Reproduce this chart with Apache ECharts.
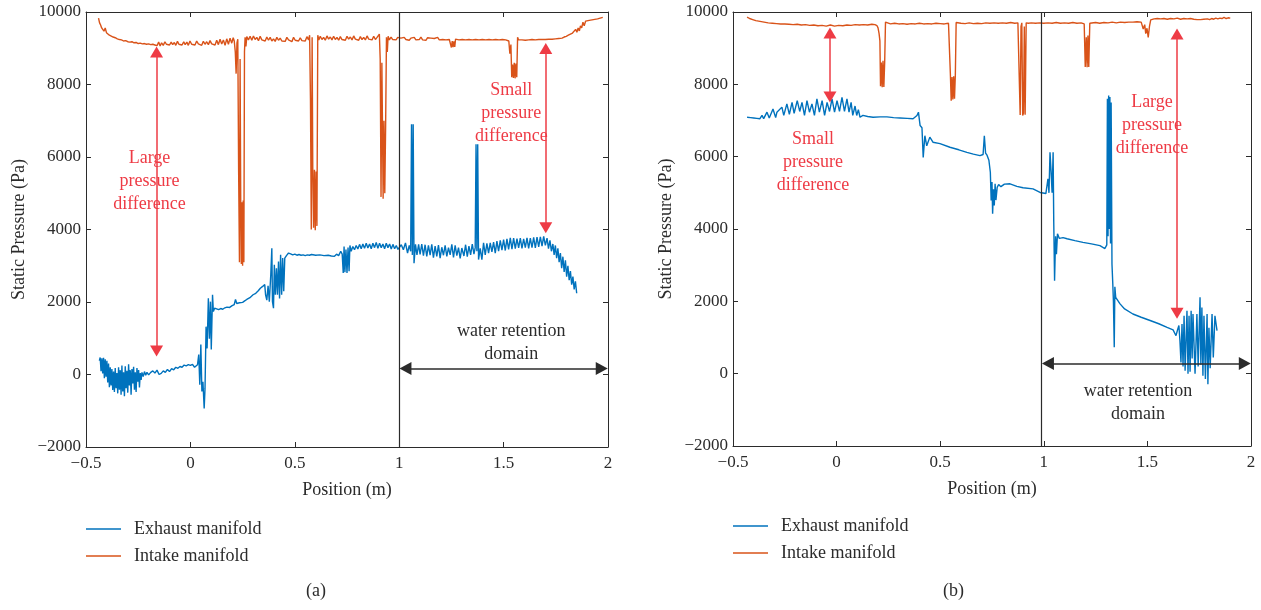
<!DOCTYPE html>
<html>
<head>
<meta charset="utf-8">
<title>Static pressure</title>
<script src="https://cdn.jsdelivr.net/npm/echarts@6/dist/echarts.min.js"></script>
<style>
  html, body { margin: 0; padding: 0; background: #fff; }
  #chart { width: 1261px; height: 610px; }
</style>
</head>
<body>
<div id="chart"></div>
<script>
// (a) 左图 数据 [位置 m, 静压 Pa]
const leftExhaust = [
  [-0.436,380],[-0.432,470],[-0.428,90],[-0.424,450],[-0.42,30],[-0.416,460],[-0.412,-100],[-0.408,420],[-0.404,-60],[-0.4,380],
  [-0.396,-220],[-0.392,300],[-0.388,-350],[-0.384,200],[-0.38,-300],[-0.376,150],[-0.372,-430],[-0.368,80],[-0.364,-480],[-0.36,180],
  [-0.356,-380],[-0.352,40],[-0.348,-520],[-0.344,200],[-0.34,-420],[-0.336,120],[-0.332,-560],[-0.328,250],[-0.324,-470],[-0.32,60],
  [-0.316,-600],[-0.312,230],[-0.308,-380],[-0.304,100],[-0.3,-500],[-0.296,280],[-0.292,-300],[-0.288,120],[-0.284,-560],[-0.28,150],
  [-0.276,-250],[-0.272,210],[-0.268,-420],[-0.264,60],[-0.26,-480],[-0.256,180],[-0.252,-200],[-0.248,120],[-0.244,-360],[-0.24,40],
  [-0.236,-150],[-0.232,60],[-0.226,-60],[-0.22,80],[-0.214,-20],[-0.208,60],[-0.2,-10],[-0.19,60],[-0.18,100],[-0.17,40],
  [-0.16,120],[-0.15,0],[-0.14,30],[-0.13,100],[-0.12,60],[-0.11,140],[-0.1,80],[-0.09,160],[-0.08,130],[-0.07,200],
  [-0.06,170],[-0.05,220],[-0.04,200],[-0.03,260],[-0.02,240],[-0.01,270],[0.0,250],[0.01,280],[0.02,200],[0.028,240],[0.034,270],
  [0.04,550],[0.045,-280],[0.05,830],[0.055,-470],[0.06,-200],[0.066,-940],[0.07,-390],[0.075,1320],[0.08,720],[0.086,2100],
  [0.091,990],[0.096,2010],[0.1,690],[0.106,2200],[0.11,1740],[0.116,1830],[0.125,1800],[0.135,1790],[0.145,1820],[0.155,1800],
  [0.165,1840],[0.175,1860],[0.188,1850],[0.2,1900],[0.21,1930],[0.216,2070],[0.222,1960],[0.235,1980],[0.25,1990],[0.26,2030],
  [0.27,2070],[0.285,2120],[0.3,2200],[0.313,2240],[0.325,2310],[0.335,2380],[0.346,2430],[0.356,2480],[0.36,2200],[0.366,2050],
  [0.372,2450],[0.378,2010],[0.385,2760],[0.39,3480],[0.393,2010],[0.398,1830],[0.402,3030],[0.407,2200],[0.412,2930],[0.417,2200],
  [0.422,3120],[0.427,2100],[0.432,3300],[0.437,2200],[0.442,3210],[0.447,2300],[0.452,3210],[0.46,3280],[0.47,3350],
  [0.48,3330],[0.49,3300],[0.5,3320],[0.51,3290],[0.52,3310],[0.53,3290],[0.54,3300],[0.55,3280],[0.56,3300],[0.57,3290],
  [0.58,3310],[0.6,3290],[0.62,3300],[0.64,3280],[0.66,3290],[0.675,3270],[0.69,3260],[0.7,3320],[0.71,3280],[0.72,3400],
  [0.727,3320],[0.732,2800],[0.736,3530],[0.74,2820],[0.745,3450],[0.75,2800],[0.755,3500],[0.76,2850],[0.764,3560],[0.77,3400],
  [0.778,3530],[0.786,3440],[0.794,3560],[0.802,3460],[0.81,3590],[0.818,3470],[0.826,3600],[0.834,3480],[0.842,3620],[0.85,3490],
  [0.858,3600],[0.866,3470],[0.874,3620],[0.882,3500],[0.89,3640],[0.898,3480],[0.906,3620],[0.914,3500],[0.922,3600],[0.93,3470],
  [0.938,3620],[0.946,3500],[0.954,3600],[0.962,3460],[0.97,3590],[0.978,3470],[0.986,3560],[0.994,3450],[1.0,3490],
  [1.01,3580],[1.02,3440],[1.03,3630],[1.04,3350],[1.048,3560],[1.055,3400],[1.059,6900],[1.063,3300],[1.067,6900],[1.071,3070],
  [1.078,3590],[1.085,3300],[1.093,3590],[1.1,3310],[1.108,3600],[1.116,3280],[1.124,3580],[1.132,3260],[1.14,3560],[1.148,3290],
  [1.156,3590],[1.164,3220],[1.172,3540],[1.18,3260],[1.188,3570],[1.196,3210],[1.204,3510],[1.212,3290],[1.22,3560],[1.228,3260],
  [1.236,3500],[1.244,3300],[1.252,3590],[1.26,3230],[1.268,3560],[1.276,3280],[1.284,3500],[1.292,3200],[1.3,3490],[1.31,3270],
  [1.318,3580],[1.326,3250],[1.334,3540],[1.342,3300],[1.35,3600],[1.358,3320],[1.364,3500],[1.368,6350],[1.372,3400],[1.376,6350],
  [1.38,3170],[1.388,3480],[1.396,3170],[1.404,3630],[1.412,3300],[1.42,3620],[1.428,3350],[1.436,3630],[1.444,3380],[1.452,3650],
  [1.46,3350],[1.468,3680],[1.476,3400],[1.484,3700],[1.492,3430],[1.5,3720],[1.508,3420],[1.516,3740],[1.524,3450],[1.532,3770],
  [1.54,3460],[1.548,3760],[1.556,3470],[1.564,3750],[1.572,3490],[1.58,3760],[1.588,3480],[1.596,3740],[1.604,3500],[1.612,3770],
  [1.62,3480],[1.628,3760],[1.636,3500],[1.644,3780],[1.652,3490],[1.66,3790],[1.668,3520],[1.676,3800],[1.684,3540],[1.692,3810],
  [1.7,3560],[1.708,3760],[1.715,3470],[1.722,3700],[1.729,3400],[1.736,3600],[1.742,3300],[1.748,3560],[1.754,3210],[1.76,3480],
  [1.766,3100],[1.772,3350],[1.778,2930],[1.784,3250],[1.79,2830],[1.796,3150],[1.802,2700],[1.808,3000],[1.814,2600],[1.82,2850],
  [1.826,2480],[1.832,2700],[1.838,2350],[1.844,2570],[1.85,2240]
]

const leftIntake = [
  [-0.44,9830],[-0.435,9700],[-0.43,9640],[-0.425,9560],[-0.42,9600],[-0.414,9470],[-0.408,9560],[-0.402,9430],[-0.395,9460],[-0.388,9360],
  [-0.38,9380],[-0.37,9310],[-0.36,9290],[-0.35,9260],[-0.34,9240],[-0.33,9230],[-0.32,9200],[-0.31,9210],[-0.3,9180],[-0.29,9170],
  [-0.28,9180],[-0.27,9150],[-0.26,9160],[-0.25,9130],[-0.24,9140],[-0.23,9120],[-0.22,9130],[-0.21,9110],[-0.2,9120],[-0.19,9100],
  [-0.18,9110],[-0.17,9090],[-0.16,9070],[-0.152,9170],[-0.145,9060],[-0.138,9150],[-0.13,9080],[-0.122,9180],[-0.115,9110],[-0.107,9150],
  [-0.1,9090],[-0.092,9170],[-0.085,9100],[-0.077,9160],[-0.07,9080],[-0.062,9190],[-0.055,9110],[-0.047,9150],[-0.04,9090],[-0.032,9180],
  [-0.025,9100],[-0.017,9170],[-0.01,9080],[-0.002,9200],[0.006,9110],[0.014,9160],[0.022,9090],[0.03,9200],[0.038,9120],[0.046,9170],
  [0.054,9080],[0.062,9190],[0.07,9110],[0.078,9180],[0.086,9100],[0.094,9210],[0.102,9120],[0.11,9170],[0.118,9090],[0.126,9220],
  [0.134,9100],[0.142,9250],[0.15,9120],[0.158,9230],[0.166,9080],[0.174,9260],[0.182,9110],[0.19,9280],[0.198,9140],
  [0.205,9290],[0.21,9200],[0.215,8900],[0.219,8300],[0.223,9150],[0.227,9250],[0.231,5600],[0.235,3100],[0.238,8700],[0.241,4800],
  [0.244,3050],[0.247,4750],[0.25,3000],[0.253,4800],[0.256,3100],[0.259,8900],[0.262,9300],[0.266,9050],[0.27,9320],
  [0.278,9230],[0.286,9330],[0.294,9220],[0.302,9340],[0.31,9240],[0.318,9300],[0.326,9210],[0.334,9330],[0.342,9230],[0.35,9280],
  [0.358,9200],[0.366,9310],[0.374,9220],[0.382,9300],[0.39,9200],[0.398,9260],[0.406,9190],[0.414,9300],[0.422,9220],[0.43,9280],
  [0.438,9200],[0.446,9240],[0.454,9190],[0.462,9300],[0.47,9230],[0.478,9270],[0.486,9180],[0.494,9300],[0.502,9220],[0.51,9250],
  [0.518,9200],[0.526,9290],[0.534,9210],[0.542,9260],[0.55,9200],[0.558,9320],[0.566,9230],
  [0.571,9360],[0.575,7600],[0.579,4000],[0.583,9300],[0.586,5700],[0.59,4050],[0.594,5650],[0.598,3980],[0.602,5600],[0.606,4100],
  [0.61,9360],[0.615,9230],
  [0.622,9330],[0.63,9240],[0.638,9300],[0.646,9220],[0.654,9340],[0.662,9250],[0.67,9310],[0.678,9230],[0.686,9330],[0.694,9240],
  [0.702,9300],[0.71,9220],[0.718,9320],[0.726,9240],[0.734,9290],[0.742,9220],[0.75,9330],[0.758,9250],[0.766,9310],[0.774,9230],
  [0.782,9340],[0.79,9250],[0.798,9300],[0.806,9220],[0.814,9320],[0.822,9240],[0.83,9300],[0.838,9230],[0.846,9340],[0.854,9250],
  [0.862,9290],[0.87,9230],[0.878,9330],[0.886,9240],[0.894,9300],
  [0.9,9260],[0.905,9390],[0.909,8700],[0.913,4900],[0.917,8600],[0.92,6800],[0.923,4850],[0.927,7000],[0.931,5000],[0.935,6850],
  [0.939,9300],[0.943,8900],[0.947,9330],[0.953,9230],
  [0.961,9310],[0.969,9240],[0.977,9290],[0.985,9230],[0.993,9300],[1.0,9250],[1.008,9280],[1.016,9230],[1.024,9300],[1.032,9240],
  [1.04,9290],[1.048,9220],[1.056,9280],[1.064,9240],[1.072,9300],[1.08,9230],[1.088,9280],[1.096,9240],[1.104,9310],[1.112,9230],
  [1.12,9270],[1.128,9220],[1.136,9290],[1.144,9240],[1.152,9280],[1.16,9230],[1.168,9270],[1.176,9240],[1.184,9300],[1.192,9230],
  [1.2,9270],[1.208,9240],[1.216,9290],[1.224,9230],[1.232,9270],[1.24,9240],
  [1.246,9250],[1.25,9020],[1.254,9200],[1.258,9030],[1.262,9190],[1.266,9040],[1.27,9250],
  [1.278,9270],[1.286,9230],[1.294,9280],[1.302,9240],[1.31,9270],[1.318,9230],[1.326,9260],[1.334,9240],[1.342,9280],[1.35,9230],
  [1.358,9270],[1.366,9240],[1.374,9260],[1.382,9230],[1.39,9280],[1.398,9240],[1.406,9270],[1.414,9230],[1.422,9260],[1.43,9240],
  [1.438,9280],[1.446,9230],[1.454,9260],[1.462,9240],[1.47,9280],[1.478,9230],[1.486,9260],[1.494,9240],[1.502,9270],[1.51,9230],
  [1.518,9250],
  [1.525,9200],[1.53,8850],[1.535,9100],[1.539,8200],[1.543,8550],[1.547,8180],[1.551,8600],[1.555,8170],[1.559,8580],[1.563,8200],
  [1.567,9300],[1.572,9230],
  [1.58,9280],[1.588,9230],[1.596,9260],[1.604,9220],[1.612,9270],[1.62,9230],[1.628,9260],[1.636,9240],[1.644,9270],[1.652,9230],
  [1.66,9260],[1.668,9240],[1.676,9270],[1.684,9240],[1.692,9260],[1.7,9240],[1.708,9270],[1.716,9250],[1.724,9280],[1.732,9250],
  [1.74,9270],[1.748,9260],[1.756,9280],[1.764,9270],[1.772,9290],[1.78,9280],
  [1.79,9310],[1.8,9330],[1.81,9360],[1.82,9390],[1.83,9420],[1.838,9400],[1.845,9520],[1.851,9440],[1.857,9560],[1.863,9480],
  [1.868,9620],[1.874,9560],[1.88,9720],[1.886,9620],[1.893,9750],[1.9,9730],[1.91,9770],[1.93,9790],[1.95,9810],[1.975,9850]
]

// (b) 右图 数据
const rightExhaust = [
  [-0.432,7090],[-0.415,7080],[-0.4,7070],[-0.385,7060],[-0.37,7050],[-0.36,7140],[-0.352,7050],[-0.336,7230],[-0.325,7070],[-0.307,7320],
  [-0.294,7080],[-0.288,7230],[-0.264,7370],[-0.255,7140],[-0.24,7460],[-0.228,7170],[-0.215,7500],[-0.205,7200],[-0.19,7550],[-0.178,7250],
  [-0.167,7500],[-0.155,7140],[-0.143,7550],[-0.131,7230],[-0.119,7460],[-0.107,7140],[-0.095,7600],[-0.083,7230],[-0.07,7550],[-0.058,7140],
  [-0.046,7500],[-0.034,7250],[-0.022,7600],[-0.01,7230],[0.002,7550],[0.014,7250],[0.026,7640],[0.038,7250],[0.05,7600],[0.06,7230],
  [0.07,7500],[0.078,7140],[0.089,7400],[0.097,7140],[0.105,7300],[0.113,7090],[0.127,7140],[0.15,7110],[0.176,7090],[0.21,7100],
  [0.243,7100],[0.275,7080],[0.306,7070],[0.34,7060],[0.369,7050],[0.388,7140],[0.395,7230],[0.403,6860],[0.412,6800],[0.418,5980],
  [0.426,6580],[0.435,6300],[0.441,6260],[0.45,6540],[0.465,6400],[0.499,6360],[0.547,6260],[0.59,6190],[0.629,6120],[0.66,6070],
  [0.692,6030],[0.707,6060],[0.713,6580],[0.719,6100],[0.726,6040],[0.735,5900],[0.742,5570],[0.746,4790],[0.75,5300],[0.753,4420],
  [0.757,5100],[0.761,4650],[0.765,5250],[0.769,4800],[0.775,5150],[0.782,5230],[0.793,5170],[0.81,5240],[0.837,5250],[0.87,5180],
  [0.9,5140],[0.948,5110],[0.982,5010],[1.01,4980],
  [1.02,5390],[1.025,5000],[1.03,6120],[1.035,5600],[1.04,5000],[1.045,6120],[1.048,4200],[1.052,2570],[1.057,3800],[1.061,3300],
  [1.066,3870],[1.075,3740],[1.093,3760],[1.112,3730],[1.15,3680],[1.189,3630],[1.23,3590],[1.271,3540],[1.295,3460],[1.304,3560],
  [1.307,7600],[1.31,3800],[1.313,7690],[1.316,4000],[1.319,7650],[1.322,3600],[1.325,7500],[1.329,3030],[1.333,2480],[1.336,2000],
  [1.34,730],[1.343,2400],[1.347,2110],[1.368,1930],[1.39,1790],[1.43,1650],[1.47,1560],[1.513,1470],[1.555,1380],[1.595,1280],
  [1.624,1210],[1.638,1050],[1.645,1200],[1.652,1330],
  [1.657,910],[1.662,310],[1.667,1370],[1.672,200],[1.677,1600],[1.682,80],[1.691,1740],[1.696,0],[1.701,1600],[1.706,50],
  [1.711,1740],[1.716,420],[1.72,1650],[1.73,0],[1.739,1650],[1.745,200],[1.754,2110],[1.758,250],[1.763,1830],[1.768,-60],
  [1.773,1600],[1.78,-150],[1.788,1650],[1.792,-290],[1.797,1270],[1.803,150],[1.812,1650],[1.818,450],[1.826,1600],[1.836,1190]
]

const rightIntake = [
  [-0.432,9860],[-0.42,9820],[-0.405,9790],[-0.39,9760],[-0.37,9740],[-0.35,9720],[-0.33,9700],[-0.31,9690],[-0.29,9680],[-0.27,9670],
  [-0.25,9670],[-0.23,9660],[-0.21,9650],[-0.19,9660],[-0.17,9640],[-0.15,9650],[-0.13,9630],[-0.11,9640],[-0.09,9620],[-0.07,9630],
  [-0.05,9610],[-0.03,9640],[-0.01,9610],[0.01,9630],[0.03,9620],[0.05,9640],[0.07,9630],[0.09,9650],[0.11,9640],[0.13,9650],
  [0.15,9640],[0.17,9660],[0.185,9650],
  [0.195,9620],[0.2,9560],[0.205,9400],[0.209,9200],[0.212,7950],[0.216,8600],[0.22,7920],[0.224,8650],[0.228,7930],[0.232,8600],
  [0.236,9720],[0.245,9680],
  [0.26,9670],[0.28,9690],[0.3,9670],[0.32,9680],[0.34,9660],[0.36,9680],[0.38,9670],[0.4,9690],[0.42,9670],[0.44,9680],
  [0.46,9670],[0.48,9690],[0.5,9680],[0.52,9670],[0.54,9690],
  [0.546,9720],[0.549,8300],[0.553,7550],[0.557,8200],[0.561,7580],[0.565,8220],[0.569,7600],[0.573,8250],[0.577,9710],[0.585,9670],
  [0.6,9690],[0.62,9680],[0.64,9700],[0.66,9680],[0.68,9690],[0.7,9680],[0.72,9700],[0.74,9690],[0.76,9700],[0.78,9690],
  [0.8,9700],[0.82,9690],[0.84,9710],[0.86,9690],[0.875,9700],
  [0.882,9650],[0.886,7150],[0.89,9600],[0.894,9700],[0.898,7140],[0.902,7200],[0.906,9600],[0.91,7160],[0.915,9700],[0.925,9690],
  [0.94,9700],[0.96,9690],[0.98,9700],[1.0,9690],[1.02,9700],[1.04,9690],[1.06,9710],[1.08,9690],[1.1,9700],[1.12,9690],
  [1.14,9710],[1.16,9690],[1.18,9700],
  [1.195,9670],[1.2,8480],[1.205,9300],[1.209,8470],[1.213,9350],[1.217,8480],[1.222,9690],[1.23,9700],
  [1.25,9710],[1.27,9690],[1.29,9710],[1.31,9700],[1.33,9720],[1.35,9700],[1.37,9720],[1.39,9710],[1.41,9720],[1.43,9720],
  [1.45,9730],[1.47,9720],
  [1.48,9530],[1.487,9650],[1.492,9400],[1.498,9550],[1.504,9300],[1.51,9600],[1.516,9780],
  [1.525,9760],[1.532,9810],[1.54,9770],[1.548,9820],[1.556,9780],[1.564,9810],[1.572,9760],[1.58,9820],[1.588,9770],[1.596,9800],
  [1.604,9760],[1.612,9820],[1.62,9780],[1.628,9810],[1.636,9770],[1.644,9830],[1.652,9780],[1.66,9800],[1.668,9760],[1.676,9820],
  [1.684,9780],[1.692,9810],[1.7,9770],[1.708,9820],[1.716,9790],[1.724,9800],[1.732,9770],[1.74,9790],[1.748,9770],[1.756,9790],
  [1.764,9780],[1.772,9800],[1.78,9790],[1.79,9810],[1.8,9790],[1.81,9820],[1.82,9800],[1.83,9830],[1.84,9810],[1.85,9830],
  [1.86,9820],[1.87,9850],[1.88,9820],[1.89,9840],[1.9,9830]
]

// 标注 (数据坐标)
const leftBigArrow = [[-0.162, 650], [-0.162, 8900]]
const leftSmallArrow = [[1.702, 4050], [1.702, 8990]]
const rightSmallArrow = [[-0.032, 7650], [-0.032, 9420]]
const rightBigArrow = [[1.643, 1670], [1.643, 9390]]

const FONT = '"Liberation Serif", "DejaVu Serif", serif'
const BLUE = '#0072BD'
const ORANGE = '#D95319'
const RED = '#EE3B45'
const INK = '#2b2b2b'

function minus (v) {
  return v < 0 ? '\u2212' + Math.abs(v) : String(v)
}

function xAxis (grid, pos) {
  return {
    type: 'value',
    gridIndex: grid,
    position: pos,
    min: -0.5,
    max: 2,
    interval: 0.5,
    name: pos === 'bottom' ? 'Position (m)' : '',
    nameLocation: 'middle',
    nameGap: 34,
    nameTextStyle: { fontFamily: FONT, fontSize: 18, color: INK },
    axisLine: { show: true, onZero: false, lineStyle: { color: INK, width: 1 } },
    axisTick: { show: true, inside: true, length: 5, lineStyle: { color: INK } },
    axisLabel: { show: pos === 'bottom', margin: 8, fontFamily: FONT, fontSize: 17, color: INK, formatter: minus },
    splitLine: { show: false }
  }
}

function yAxis (grid, pos) {
  return {
    type: 'value',
    gridIndex: grid,
    position: pos,
    min: -2000,
    max: 10000,
    interval: 2000,
    name: pos === 'left' ? 'Static Pressure (Pa)' : '',
    nameLocation: 'middle',
    nameGap: 58,
    nameTextStyle: { fontFamily: FONT, fontSize: 18, color: INK },
    axisLine: { show: true, onZero: false, lineStyle: { color: INK, width: 1 } },
    axisTick: { show: true, inside: true, length: 5, lineStyle: { color: INK } },
    axisLabel: { show: pos === 'left', margin: 5, fontFamily: FONT, fontSize: 17, color: INK, formatter: minus },
    splitLine: { show: false }
  }
}

function arrow (pts, color, size) {
  return [
    { coord: pts[0], symbol: 'triangle', symbolSize: size, lineStyle: { color: color, width: 1.5, type: 'solid' } },
    { coord: pts[1], symbol: 'triangle', symbolSize: size }
  ]
}

function note (coord, text, color) {
  return {
    coord: coord,
    symbol: 'rect',
    symbolSize: 1,
    itemStyle: { color: 'rgba(0,0,0,0)' },
    label: {
      show: true,
      position: 'inside',
      formatter: text,
      color: color,
      fontFamily: FONT,
      fontSize: 18,
      lineHeight: 23
    }
  }
}

function lineSeries (name, data, color, grid) {
  return {
    type: 'line',
    name: name,
    xAxisIndex: grid,
    yAxisIndex: grid,
    data: data,
    symbol: 'none',
    showSymbol: false,
    lineStyle: { color: color, width: 1.4 },
    itemStyle: { color: color },
    z: 3
  }
}

const series = [
  lineSeries('Intake manifold', leftIntake, ORANGE, 0),
  lineSeries('Exhaust manifold', leftExhaust, BLUE, 0),
  lineSeries('Intake manifold', rightIntake, ORANGE, 1),
  lineSeries('Exhaust manifold', rightExhaust, BLUE, 1)
]

// 左图标注
series[1].markLine = {
  silent: true,
  animation: false,
  label: { show: false },
  data: [
    [{ coord: [1, -2000], symbol: 'none', lineStyle: { color: INK, width: 1.2, type: 'solid' } }, { coord: [1, 10000], symbol: 'none' }],
    arrow([[1.03, 165], [1.97, 165]], INK, [13, 12]),
    arrow(leftBigArrow, RED, [13, 11]),
    arrow(leftSmallArrow, RED, [13, 11])
  ]
}
series[1].markPoint = {
  silent: true,
  animation: false,
  data: [
    note([-0.196, 5330], 'Large\npressure\ndifference', RED),
    note([1.537, 7200], 'Small\npressure\ndifference', RED),
    note([1.537, 880], 'water retention\ndomain', INK)
  ]
}

// 右图标注
series[3].markLine = {
  silent: true,
  animation: false,
  label: { show: false },
  data: [
    [{ coord: [0.99, -2000], symbol: 'none', lineStyle: { color: INK, width: 1.2, type: 'solid' } }, { coord: [0.99, 10000], symbol: 'none' }],
    arrow([[1.02, 280], [1.97, 280]], INK, [13, 12]),
    arrow(rightSmallArrow, RED, [13, 11]),
    arrow(rightBigArrow, RED, [13, 11])
  ]
}
series[3].markPoint = {
  silent: true,
  animation: false,
  data: [
    note([-0.114, 5840], 'Small\npressure\ndifference', RED),
    note([1.522, 6860], 'Large\npressure\ndifference', RED),
    note([1.455, -800], 'water retention\ndomain', INK)
  ]
}

function legend (left, top) {
  return {
    left: left,
    top: top,
    orient: 'vertical',
    data: ['Exhaust manifold', 'Intake manifold'],
    icon: 'rect',
    itemWidth: 35,
    itemHeight: 1.5,
    itemGap: 9,
    selectedMode: false,
    textStyle: { fontFamily: FONT, fontSize: 18, color: INK, padding: [0, 0, 0, 8] }
  }
}

const option = {
  animation: false,
  backgroundColor: '#fff',
  title: [
    { text: '(a)', left: 301, top: 577, textStyle: { fontFamily: FONT, fontSize: 18, fontWeight: 'normal', color: INK } },
    { text: '(b)', left: 938, top: 577, textStyle: { fontFamily: FONT, fontSize: 18, fontWeight: 'normal', color: INK } }
  ],
  legend: [legend(81, 515), legend(728, 512)],
  grid: [
    { left: 86, top: 12, width: 522, height: 435 },
    { left: 733, top: 12, width: 518, height: 434 }
  ],
  xAxis: [xAxis(0, 'bottom'), xAxis(1, 'bottom'), xAxis(0, 'top'), xAxis(1, 'top')],
  yAxis: [yAxis(0, 'left'), yAxis(1, 'left'), yAxis(0, 'right'), yAxis(1, 'right')],
  series: series
}

const chart = echarts.init(document.getElementById('chart'))
chart.setOption(option)
</script>
</body>
</html>
